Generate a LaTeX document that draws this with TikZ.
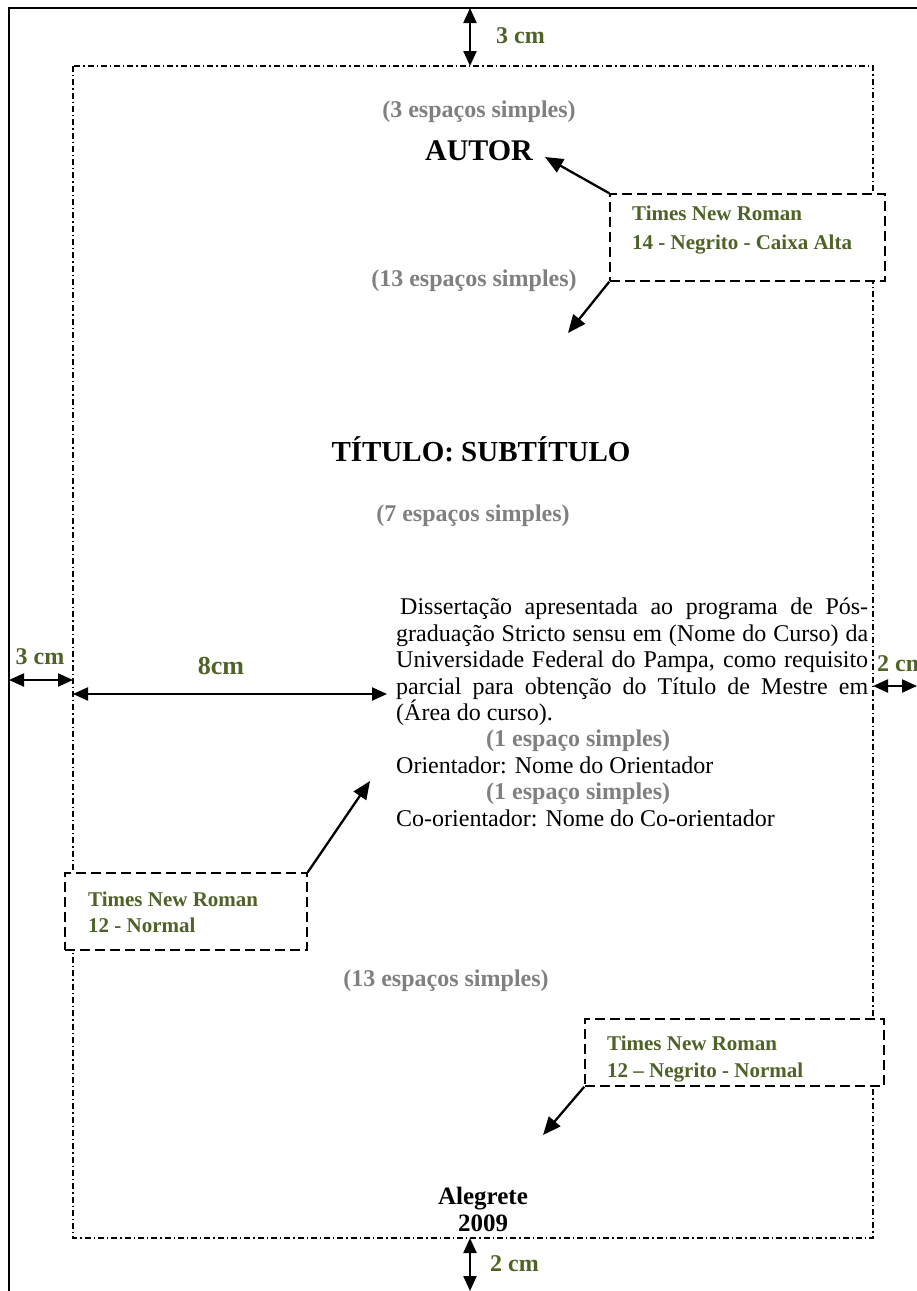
\documentclass[tikz,border=0pt]{standalone}
\usepackage{fontspec}
\setmainfont{Liberation Serif}
\usetikzlibrary{arrows.meta}
\definecolor{olive}{RGB}{79,98,40}
\definecolor{note}{RGB}{128,128,128}
\tikzset{
  x=1pt, y=-1pt,
  page/.style={line width=1.5pt},
  margin/.style={line width=1.3pt, dash pattern=on 6pt off 3pt on 1.3pt off 3pt},
  specbox/.style={draw, fill=white, line width=1.5pt, dash pattern=on 10pt off 5pt, inner sep=0pt},
  spectext/.style={anchor=west, align=left, text=olive, inner sep=0pt,
    font=\fontsize{21}{27}\selectfont\bfseries},
  spacing/.style={text=note, inner sep=0pt, font=\fontsize{24}{26}\selectfont\bfseries},
  dimlabel/.style={text=olive, inner sep=0pt, font=\fontsize{24}{26}\selectfont\bfseries},
  dim/.style={line width=2.3pt, {Triangle[length=15pt,width=13pt]}-{Triangle[length=15pt,width=13pt]}},
  pointer/.style={line width=2.3pt, -{Triangle[length=18pt,width=15pt]}},
  heading/.style={inner sep=0pt, font=\fontsize{30}{32}\selectfont\bfseries},
}
\begin{document}
\begin{tikzpicture}
\clip (0,0) rectangle (917,1291);
\fill[white] (0,0) rectangle (917,1291);

% sheet edges and printable area
\coordinate (pgTL) at (9,8);
\coordinate (pgTR) at (917,8);
\coordinate (pgBL) at (9,1291);
\draw[page] (pgBL) -- (pgTL) -- (pgTR);
\draw[margin] (73,66) rectangle (873,1238);

% margin dimensions
\coordinate (topA) at (470,8);
\coordinate (topB) at (470,66);
\draw[dim] (topA) -- (topB);
\node[dimlabel, anchor=west] (topL) at (496,36) {3 cm};

\coordinate (botA) at (470,1238);
\coordinate (botB) at (470,1291);
\draw[dim] (botA) -- (botB);
\node[dimlabel, anchor=west] (botL) at (490,1264) {2 cm};

\coordinate (leftA) at (9,680);
\coordinate (leftB) at (73,680);
\draw[dim] (leftA) -- (leftB);
\node[dimlabel] (leftL) at (40,657) {3 cm};

\coordinate (rightA) at (873,686);
\coordinate (rightB) at (917,686);
\draw[dim] (rightA) -- (rightB);
\node[dimlabel, anchor=west] (rightL) at (877,664) {2 cm};

\coordinate (textA) at (73,694);
\coordinate (textB) at (387,694);
\draw[dim] (textA) -- (textB);
\node[dimlabel, font=\fontsize{26}{28}\selectfont\bfseries] (textL) at (221,666) {8cm};

% page content
\node[spacing] (sp3) at (479,112) {(3 espaços simples)};
\node[heading] (autor) at (479,151) {AUTOR};
\node[spacing] (sp13a) at (474,281) {(13 espaços simples)};
\node[heading, font=\fontsize{29}{31}\selectfont\bfseries] (titulo) at (481,449) {TÍTULO: SUBTÍTULO};
\node[spacing] (sp7) at (473,516) {(7 espaços simples)};

\node[anchor=north west, inner sep=0pt, text width=472pt, align=justify,
      font=\fontsize{24}{26.4}\selectfont] (nota) at (396,598)
  {\hspace*{4pt}Dissertação apresentada ao programa de Pós-\linebreak
   graduação Stricto sensu em (Nome do Curso) da\linebreak
   Universidade Federal do Pampa, como requisito\linebreak
   parcial para obtenção do Título de Mestre em\linebreak
   (Área do curso).\\
   \hspace*{90pt}{\color{note}\bfseries(1 espaço simples)}\\
   Orientador: Nome do Orientador\\
   \hspace*{90pt}{\color{note}\bfseries(1 espaço simples)}\\
   Co-orientador: Nome do Co-orientador};

\node[spacing] (sp13b) at (446,981) {(13 espaços simples)};
\node[inner sep=0pt, align=center, font=\fontsize{25}{27}\selectfont\bfseries] (local) at (483,1209) {Alegrete\\2009};

% font specification boxes
\node[specbox, minimum width=275pt, minimum height=87pt] (box1) at (747.5,237.5) {};
\node[spectext, font=\fontsize{21}{29}\selectfont\bfseries] (box1t) at (632,230.5) {Times New Roman\\14 - Negrito - Caixa Alta};

\node[specbox, minimum width=242pt, minimum height=77pt] (box2) at (186,911.5) {};
\node[spectext, font=\fontsize{21}{26}\selectfont\bfseries] (box2t) at (88,912) {Times New Roman\\12 - Normal};

\node[specbox, minimum width=299pt, minimum height=67pt] (box3) at (734.5,1052.5) {};
\node[spectext] (box3t) at (607,1059) {Times New Roman\\12 – Negrito - Normal};

% pointers from the boxes
\coordinate (toAutor) at (545,157);
\coordinate (toTitulo) at (568,333);
\coordinate (toNota) at (370,781);
\coordinate (toLocal) at (543,1135);
\draw[pointer] (box1.north west) -- (toAutor);
\draw[pointer] (box1.south west) -- (toTitulo);
\draw[pointer] (box2.north east) -- (toNota);
\draw[pointer] (box3.south west) -- (toLocal);
\end{tikzpicture}
\end{document}
